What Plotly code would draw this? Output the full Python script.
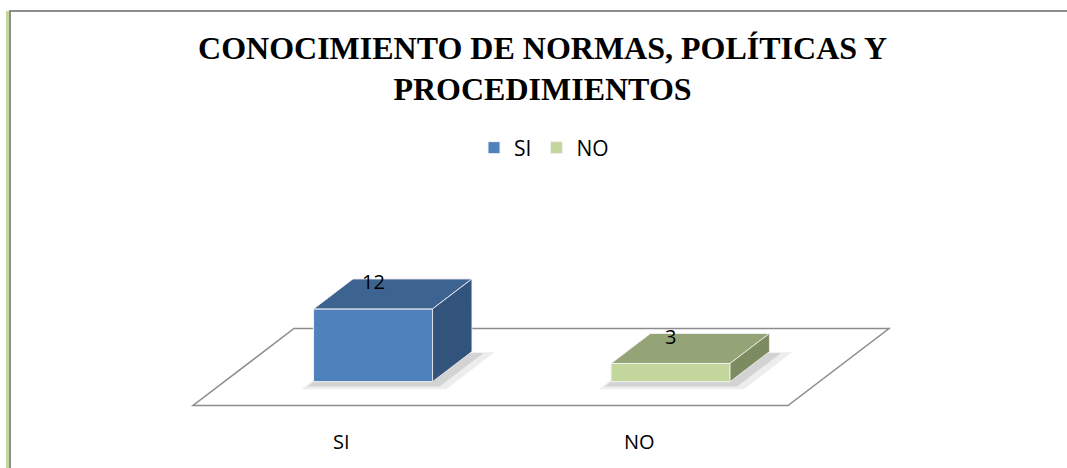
import plotly.graph_objects as go

# ---- data ----
categories = ["SI", "NO"]
values = [12, 3]
title_text = "CONOCIMIENTO DE NORMAS, POLÍTICAS Y<br>PROCEDIMIENTOS"

# ---- styling ----
front_colors = ["#4F81BD", "#C3D69B"]
top_colors = ["#3D6491", "#94A476"]
side_colors = ["#32537C", "#7C8B60"]

W, H = 1067, 468
X0, SX, DX = 193.0, 297.5, 101.0      # pixel origin, px per category, px depth shift
Y0, SZ, DY = 405.5, 6.06, 77.0        # pixel floor front, px per value unit, px depth rise
kx = DX / SX
ky = DY / SZ
bar_w = 0.4
w0, w1 = 0.31, 0.70                   # bar depth extent (0..1)


def proj(u, w, z):
    return u + w * kx, z + w * ky


fig = go.Figure()

# floor (below everything)
floor = [proj(0, 0, 0), proj(len(categories), 0, 0), proj(len(categories), 1, 0), proj(0, 1, 0)]
path = "M " + " L ".join(f"{x},{y}" for x, y in floor) + " Z"
shapes = [dict(type="path", path=path, xref="x", yref="y", layer="below",
               line=dict(color="#8C8C8C", width=1.5), fillcolor="white")]

annotations = []
for i, (cat, v) in enumerate(zip(categories, values)):
    uc = i + 0.5
    u0, u1 = uc - bar_w / 2, uc + bar_w / 2
    # soft shadow on floor
    for grow, op in [(0.035, 0.07), (0.018, 0.11)]:
        sh = [proj(u0 - grow * 0.5, w0 - grow * 2.0, -0.35), proj(u1 + grow * 2.0, w0 - grow * 2.0, -0.35),
              proj(u1 + grow * 2.0, w1 + grow * 0.5, -0.35), proj(u0 - grow * 0.5, w1 + grow * 0.5, -0.35)]
        shp = "M " + " L ".join(f"{x},{y}" for x, y in sh) + " Z"
        shapes.append(dict(type="path", path=shp, xref="x", yref="y", layer="below",
                           line=dict(width=0), fillcolor=f"rgba(0,0,0,{op})"))
    # front face
    fx, fy = proj(uc, w0, 0)
    fig.add_trace(go.Bar(x=[fx], y=[v], base=[fy], width=[bar_w], name=cat,
                         marker=dict(color=front_colors[i], line=dict(color="#F2F2F2", width=1)),
                         hoverinfo="skip"))
    # top face
    top = [proj(u0, w0, v), proj(u1, w0, v), proj(u1, w1, v), proj(u0, w1, v), proj(u0, w0, v)]
    fig.add_trace(go.Scatter(x=[p[0] for p in top], y=[p[1] for p in top], fill="toself",
                             fillcolor=top_colors[i], mode="lines",
                             line=dict(color="#F2F2F2", width=1), showlegend=False, hoverinfo="skip"))
    # side face
    side = [proj(u1, w0, 0), proj(u1, w1, 0), proj(u1, w1, v), proj(u1, w0, v), proj(u1, w0, 0)]
    fig.add_trace(go.Scatter(x=[p[0] for p in side], y=[p[1] for p in side], fill="toself",
                             fillcolor=side_colors[i], mode="lines",
                             line=dict(color="#F2F2F2", width=0.8), showlegend=False, hoverinfo="skip"))
    # data label
    _, ly2 = proj(uc, w1, v)
    lx, _ = proj(uc, w0, v)
    annotations.append(dict(x=lx, y=ly2, xref="x", yref="y", text=str(v), showarrow=False,
                            yshift=-3, font=dict(family="Open Sans", size=20, color="black")))
    # category label
    cx, cy = proj(uc, 0, 0)
    annotations.append(dict(x=cx, y=cy, xref="x", yref="y", text=cat, showarrow=False,
                            yshift=-36, font=dict(family="Open Sans", size=20, color="black")))

# outer border decoration
shapes += [
    dict(type="line", xref="paper", yref="paper", x0=7.5 / W, x1=7.5 / W, y0=0, y1=1 - 11 / H,
         line=dict(color="#C3D69B", width=3)),
    dict(type="line", xref="paper", yref="paper", x0=10 / W, x1=10 / W, y0=0, y1=1 - 10 / H,
         line=dict(color="#8C8C8C", width=2)),
    dict(type="line", xref="paper", yref="paper", x0=9 / W, x1=1, y0=1 - 11 / H, y1=1 - 11 / H,
         line=dict(color="#8C8C8C", width=2)),
]

fig.update_layout(
    width=W, height=H,
    margin=dict(l=0, r=0, t=0, b=0),
    paper_bgcolor="white", plot_bgcolor="white",
    barmode="overlay",
    title=dict(text=title_text, x=542.5 / W, xanchor="center", y=1 - 58.5 / H, yanchor="middle",
               yref="container",
               font=dict(family="Liberation Serif", size=32, color="black", weight="bold")),
    legend=dict(orientation="h", x=544 / W, xanchor="center", y=1 - 148 / H, yanchor="middle",
                font=dict(family="Open Sans", size=21, color="black"), bgcolor="rgba(0,0,0,0)",
                itemwidth=30),
    xaxis=dict(range=[-X0 / SX, (W - X0) / SX], visible=False, fixedrange=True),
    yaxis=dict(range=[(Y0 - H) / SZ, Y0 / SZ], visible=False, fixedrange=True),
    shapes=shapes,
    annotations=annotations,
)

fig.write_html("out.html", config={"displayModeBar": False},
               post_script="document.body.style.margin='0';")
